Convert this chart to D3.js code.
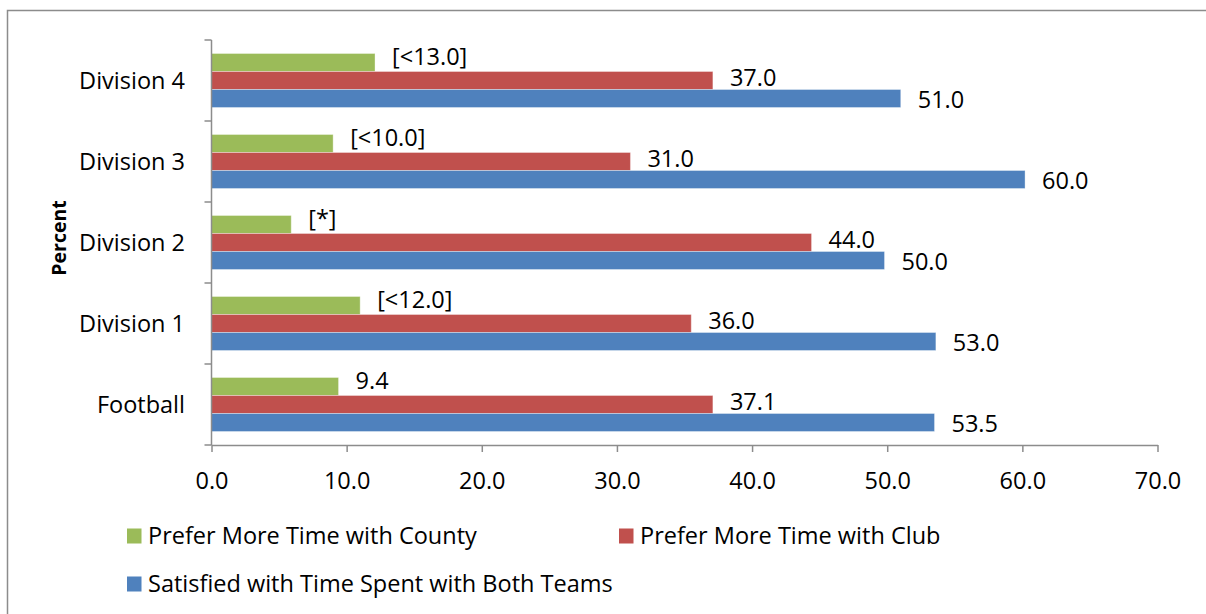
<!DOCTYPE html>
<html>
<head>
<meta charset="utf-8">
<script src="https://cdn.jsdelivr.net/npm/d3@7"></script>
<style>
  body { margin: 0; background: #fff; }
  svg text { font-family: "Open Sans", "Noto Sans", sans-serif; fill: #000; }
</style>
</head>
<body>
<div id="chart"></div>
<script>
// categories, bottom to top as in the sheet
var categories = ["Football", "Division 1", "Division 2", "Division 3", "Division 4"];
var seriesNames = ["Prefer More Time with County", "Prefer More Time with Club", "Satisfied with Time Spent with Both Teams"];
var county = [9.4, 11.0, 5.9, 9.0, 12.1];
var club = [37.1, 35.5, 44.4, 31.0, 37.1];
var satisfied = [53.5, 53.6, 49.8, 60.2, 51.0];
var countyLabels = ["9.4", "[<12.0]", "[*]", "[<10.0]", "[<13.0]"];
var clubLabels = ["37.1", "36.0", "44.0", "31.0", "37.0"];
var satisfiedLabels = ["53.5", "53.0", "50.0", "60.0", "51.0"];
var xTicks = [0, 10, 20, 30, 40, 50, 60, 70];

var width = 1206, height = 614;
var colors = ["#9BBB59", "#C0504D", "#4F81BD"];
var labelShift = [-6, -3, 1.5];
var fontSize = 23.5;

var series = [
  {name: seriesNames[0], values: county, labels: countyLabels},
  {name: seriesNames[1], values: club, labels: clubLabels},
  {name: seriesNames[2], values: satisfied, labels: satisfiedLabels}
];

var svg = d3.select("#chart").append("svg")
  .attr("width", width)
  .attr("height", height);

// outer frame
svg.append("rect")
  .attr("x", 7.5).attr("y", 10.5)
  .attr("width", 1220).attr("height", 640)
  .attr("fill", "none")
  .attr("stroke", "#8c8c8c")
  .attr("stroke-width", 1.5);

/* Scales */
var x = d3.scaleLinear().domain([0, 70]).range([211.5, 1157.5]);

var y = d3.scaleBand()
  .domain(categories.slice().reverse())
  .range([40, 445])
  .paddingInner(1 / 3)
  .paddingOuter(1 / 6);

var ySub = d3.scaleBand()
  .domain(d3.range(series.length))
  .range([0, y.bandwidth()]);

/* Bars */
series.forEach(function(s, si) {
  var g = svg.append("g").attr("class", "series");
  g.selectAll("rect")
    .data(s.values).enter()
    .append("rect")
    .attr("x", x(0))
    .attr("y", (d, i) => y(categories[i]) + ySub(si))
    .attr("width", d => x(d) - x(0))
    .attr("height", ySub.bandwidth())
    .attr("fill", colors[si])
    .attr("stroke", "#fff")
    .attr("stroke-opacity", 0.35)
    .attr("stroke-width", 1);

  g.selectAll("text")
    .data(s.values).enter()
    .append("text")
    .attr("x", d => x(d) + 17)
    .attr("y", (d, i) => y(categories[i]) + ySub(si) + ySub.bandwidth() / 2 + labelShift[si])
    .attr("dy", "0.36em")
    .style("font-size", fontSize + "px")
    .text((d, i) => s.labels[i]);
});

/* Axes */
var axisColor = "#8c8c8c";

var xAxis = d3.axisBottom(x)
  .tickValues(xTicks)
  .tickFormat(d3.format(".1f"))
  .tickSize(7)
  .tickPadding(20)
  .tickSizeOuter(0);

var gx = svg.append("g")
  .attr("class", "x axis")
  .attr("transform", "translate(0,445)")
  .call(xAxis);
gx.select(".domain").attr("stroke", axisColor).attr("stroke-width", 1.5);
gx.selectAll(".tick line").attr("stroke", axisColor).attr("stroke-width", 1.5);
gx.selectAll(".tick text").style("font-size", fontSize + "px").attr("fill", "#000");

// category axis: labels centred on bands, tick marks on band edges
var gy = svg.append("g").attr("class", "y axis");
gy.append("line")
  .attr("x1", x(0)).attr("x2", x(0))
  .attr("y1", 40).attr("y2", 445)
  .attr("stroke", axisColor).attr("stroke-width", 1.5);
gy.selectAll(".edge")
  .data(d3.range(categories.length + 1)).enter()
  .append("line")
  .attr("class", "edge")
  .attr("x1", x(0) - 7).attr("x2", x(0))
  .attr("y1", i => 40 + i * y.step())
  .attr("y2", i => 40 + i * y.step())
  .attr("stroke", axisColor).attr("stroke-width", 1.5);
gy.selectAll(".cat")
  .data(categories).enter()
  .append("text")
  .attr("class", "cat")
  .attr("x", 185)
  .attr("y", d => y(d) + y.bandwidth() / 2)
  .attr("dy", "0.36em")
  .attr("text-anchor", "end")
  .style("font-size", fontSize + "px")
  .text(d => d);

svg.append("text")
  .attr("transform", "translate(66,238) rotate(-90)")
  .attr("text-anchor", "middle")
  .style("font-size", "19.5px")
  .style("font-weight", "bold")
  .text("Percent");

/* Legend */
var legendPos = [[127, 536], [619, 536], [127, 584]];
var legend = svg.append("g").attr("class", "legend");
series.forEach(function(s, si) {
  var item = legend.append("g")
    .attr("transform", "translate(" + legendPos[si][0] + "," + legendPos[si][1] + ")");
  item.append("rect")
    .attr("x", 0).attr("y", -7.5)
    .attr("width", 14.5).attr("height", 15)
    .attr("fill", colors[si]);
  item.append("text")
    .attr("x", 21)
    .attr("y", 0)
    .attr("dy", "0.36em")
    .style("font-size", fontSize + "px")
    .text(s.name);
});
</script>
</body>
</html>
